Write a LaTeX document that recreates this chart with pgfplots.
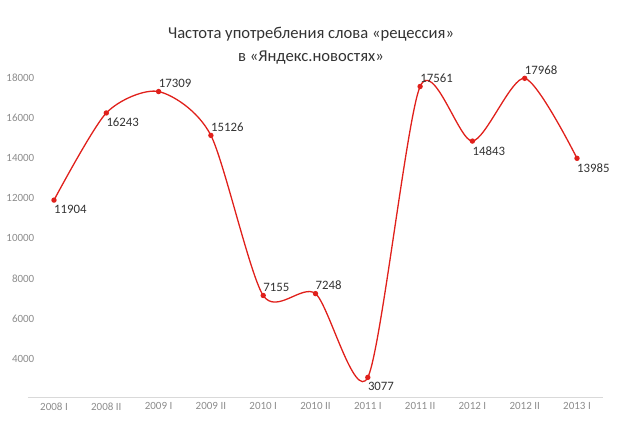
\documentclass[border=0pt]{standalone}
\usepackage{pgfplots}
\pgfplotsset{compat=1.18}
\usepackage{fontspec}
\setmainfont{Carlito}
\definecolor{lred}{HTML}{E0201B}
\definecolor{tickgray}{HTML}{8C8C8C}
\definecolor{axgray}{HTML}{D9D9D9}
\definecolor{lbl}{HTML}{333333}
\begin{document}
\begin{tikzpicture}[x=1pt,y=1pt]
\path[use as bounding box] (0,0) rectangle (620,420);
\node[font=\fontsize{16.6}{19}\selectfont, text=lbl] at (311,386) {Частота употребления слова «рецессия»};
\node[font=\fontsize{16.6}{19}\selectfont, text=lbl] at (311,362) {в «Яндекс.новостях»};
\begin{axis}[
  at={(27.85pt,23pt)}, anchor=south west,
  scale only axis, width=575.3pt, height=339.4pt,
  xmin=-0.5, xmax=10.5, ymin=2100, ymax=19000,
  axis lines=left,
  x axis line style={draw=axgray, line width=1pt, -},
  y axis line style={draw=none},
  major tick length=0pt,
  xtick={0,...,10},
  xticklabels={2008 I,2008 II,2009 I,2009 II,2010 I,2010 II,2011 I,2011 II,2012 I,2012 II,2013 I},
  ytick={4000,6000,...,18000},
  scaled y ticks=false,
  /pgf/number format/assume math mode=true,
  /pgf/number format/1000 sep={},
  ticklabel style={font=\fontsize{11}{13}\selectfont, text=tickgray},
  yticklabel style={anchor=east, xshift=10pt},
  xticklabel style={yshift=-2pt},
  clip=false,
]
\addplot[lred, line width=1.3pt, smooth, tension=0.45, mark=*, mark size=2pt, mark options={fill=lred, draw=lred}] table {
0 11904
1 16243
2 17309
3 15126
4 7155
5 7248
6 3077
7 17561
8 14843
9 17968
10 13985
};
% labels below-right
\addplot[draw=none, mark=none, nodes near coords, point meta=explicit symbolic,
  every node near coord/.append style={font=\fontsize{12.8}{15}\selectfont, text=lbl, anchor=north west, inner sep=0pt, xshift=0pt, yshift=-5pt}]
  table[meta=lab] {
x y lab
0 11904 11904
1 16243 16243
6 3077 3077
8 14843 14843
10 13985 13985
};
% labels above-right
\addplot[draw=none, mark=none, nodes near coords, point meta=explicit symbolic,
  every node near coord/.append style={font=\fontsize{12.8}{15}\selectfont, text=lbl, anchor=south west, inner sep=0pt, xshift=0pt, yshift=4pt}]
  table[meta=lab] {
x y lab
2 17309 17309
3 15126 15126
4 7155 7155
5 7248 7248
7 17561 17561
9 17968 17968
};
\end{axis}
\end{tikzpicture}
\end{document}
